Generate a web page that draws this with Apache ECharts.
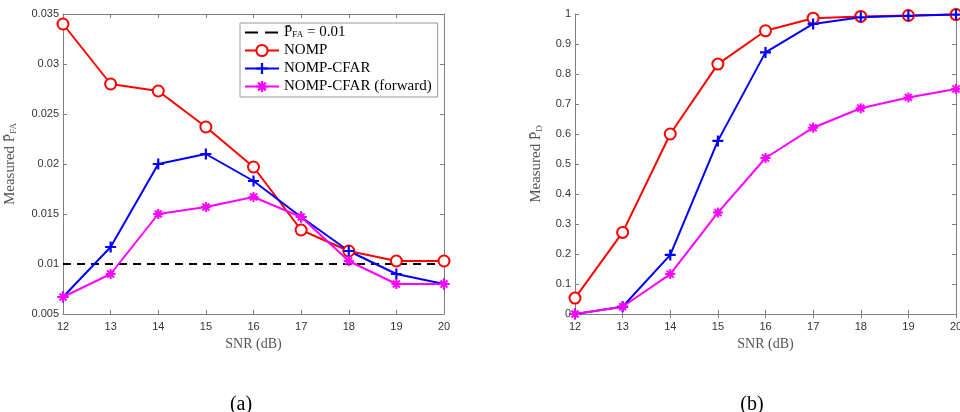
<!DOCTYPE html>
<html>
<head>
<meta charset="utf-8">
<script src="https://cdn.jsdelivr.net/npm/echarts@6/dist/echarts.min.js"></script>
<style>html,body{margin:0;padding:0;background:#fff}#c{width:960px;height:412px}</style>
</head>
<body>
<div id="c"></div>
<script>
const snr = [12, 13, 14, 15, 16, 17, 18, 19, 20];
const pfaTarget = [0.01, 0.01, 0.01, 0.01, 0.01, 0.01, 0.01, 0.01, 0.01];
const pfaNomp = [0.034, 0.028, 0.0273, 0.0237, 0.0197, 0.0134, 0.0113, 0.0103, 0.0103];
const pfaCfar = [0.0067, 0.0117, 0.020, 0.021, 0.0183, 0.0147, 0.0113, 0.009, 0.008];
const pfaFwd = [0.0067, 0.009, 0.015, 0.0157, 0.0167, 0.0147, 0.0103, 0.008, 0.008];
const pdNomp = [0.053, 0.272, 0.600, 0.833, 0.944, 0.986, 0.992, 0.995, 0.998];
const pdCfar = [0.0, 0.024, 0.197, 0.577, 0.872, 0.967, 0.989, 0.994, 0.998];
const pdFwd = [0.0, 0.024, 0.133, 0.338, 0.520, 0.621, 0.686, 0.722, 0.750];
const names = ['P̄FA = 0.01', 'NOMP', 'NOMP-CFAR', 'NOMP-CFAR (forward)'];

const pair = (ys) => snr.map((x, i) => [x, ys[i]]);
const RED = '#ff0000', BLUE = '#0000ff', MAG = '#ff00ff', AX = '#7f7f7f', TXT = '#333333';
const plusPath = 'path://M4,0H6V4H10V6H6V10H4V6H0V4H4Z';
const starPath = 'path://M4,0H6V10H4Z M0,4H10V6H0Z M2.21,0.79L9.21,7.79L7.79,9.21L0.79,2.21Z M0.79,7.79L7.79,0.79L9.21,2.21L2.21,9.21Z';
const dashIcon = 'path://M0,0H0.01V0.01H0Z M0,6H13V8H0Z M20,6H33V8H20Z M33.99,13.99H34V14H33.99Z';
const serif = 'Liberation Serif';

function mkSeries(gi, name, data, color, symbol, size, dashed) {
  return {
    type: 'line', name: name, xAxisIndex: gi * 2, yAxisIndex: gi * 2,
    data: pair(data), color: color,
    lineStyle: { color: color, width: 2, type: dashed ? [8, 6] : 'solid' },
    symbol: symbol || 'none', symbolSize: size || 0, showSymbol: !!symbol,
    itemStyle: symbol === 'emptyCircle' ? { color: color, borderColor: color, borderWidth: 2 } : { color: color },
    emphasis: { disabled: true }, silent: true, z: dashed ? 1 : 2
  };
}

const grids = [
  { left: 63, right: 516, top: 14, bottom: 98, outerBoundsMode: 'none', containLabel: false },
  { left: 575, right: 4, top: 14, bottom: 98, outerBoundsMode: 'none', containLabel: false }
];
const fmt = v => String(parseFloat(v.toFixed(3)));
const xAxes = [], yAxes = [];
[0, 1].forEach(gi => {
  xAxes.push({
    type: 'value', gridIndex: gi, min: 12, max: 20, interval: 1, position: 'bottom',
    name: 'SNR (dB)', nameLocation: 'middle', nameGap: 21,
    nameTextStyle: { fontFamily: serif, fontSize: 14, color: '#555' },
    axisLine: { lineStyle: { color: AX, width: 1 } },
    axisTick: { inside: true, length: 4, lineStyle: { color: AX } },
    axisLabel: { fontFamily: 'Liberation Sans', fontSize: 11, color: TXT, margin: 7 },
    splitLine: { show: false }
  });
  xAxes.push({
    type: 'value', gridIndex: gi, min: 12, max: 20, interval: 1, position: 'top',
    axisLine: { lineStyle: { color: AX, width: 1 } },
    axisTick: { inside: true, length: 4, lineStyle: { color: AX } },
    axisLabel: { show: false }, splitLine: { show: false }
  });
  const yMin = gi === 0 ? 0.005 : 0, yMax = gi === 0 ? 0.035 : 1, yInt = gi === 0 ? 0.005 : 0.1;
  yAxes.push({
    type: 'value', gridIndex: gi, min: yMin, max: yMax, interval: yInt, position: 'left',
    name: gi === 0 ? 'Measured P̄{sub|FA}' : 'Measured P̄{sub|D}',
    nameLocation: 'middle', nameGap: gi === 0 ? 45 : 31,
    nameTextStyle: { fontFamily: serif, fontSize: 15, color: '#555',
      rich: { sub: { fontFamily: serif, fontSize: 9, color: '#555', padding: [6, 0, 0, 0] } } },
    axisLine: { lineStyle: { color: AX, width: 1 } },
    axisTick: { inside: true, length: 4, lineStyle: { color: AX } },
    axisLabel: { fontFamily: 'Liberation Sans', fontSize: 11, color: TXT, margin: 4, formatter: fmt },
    splitLine: { show: false }
  });
  yAxes.push({
    type: 'value', gridIndex: gi, min: yMin, max: yMax, interval: yInt, position: 'right',
    axisLine: { lineStyle: { color: AX, width: 1 } },
    axisTick: { inside: true, length: 4, lineStyle: { color: AX } },
    axisLabel: { show: false }, splitLine: { show: false }
  });
});

const series = [
  mkSeries(0, names[0], pfaTarget, '#000000', null, 0, true),
  mkSeries(0, names[1], pfaNomp, RED, 'emptyCircle', 11),
  mkSeries(0, names[2], pfaCfar, BLUE, plusPath, 11),
  mkSeries(0, names[3], pfaFwd, MAG, starPath, 10),
  mkSeries(1, names[1] + ' ', pdNomp, RED, 'emptyCircle', 11),
  mkSeries(1, names[2] + ' ', pdCfar, BLUE, plusPath, 11),
  mkSeries(1, names[3] + ' ', pdFwd, MAG, starPath, 10)
];

const chart = echarts.init(document.getElementById('c'), null, { renderer: 'canvas' });
chart.setOption({
  animation: false,
  backgroundColor: '#fff',
  grid: grids,
  xAxis: xAxes,
  yAxis: yAxes,
  title: [
    { text: '(a)', left: 236, top: 390, textAlign: 'center', textStyle: { fontFamily: serif, fontSize: 20, fontWeight: 'normal', color: '#000' } },
    { text: '(b)', left: 747, top: 390, textAlign: 'center', textStyle: { fontFamily: serif, fontSize: 20, fontWeight: 'normal', color: '#000' } }
  ],
  legend: {
    data: [{ name: names[0], icon: dashIcon, itemStyle: { color: '#000' } }, names[1], names[2], names[3]],
    orient: 'vertical', left: 240, top: 23,
    padding: [2, 6, 3, 4], itemGap: 3, itemWidth: 34, itemHeight: 14,
    backgroundColor: '#fff', borderColor: '#999', borderWidth: 1,
    selectedMode: false,
    textStyle: { fontFamily: serif, fontSize: 15, lineHeight: 15, color: '#000',
      rich: { sub: { fontFamily: serif, fontSize: 9, lineHeight: 15, color: '#000', padding: [5, 0, 0, 0] } } },
    formatter: n => n === names[0] ? 'P̄{sub|FA} = 0.01' : n
  },
  series: series
});
</script>
</body>
</html>
